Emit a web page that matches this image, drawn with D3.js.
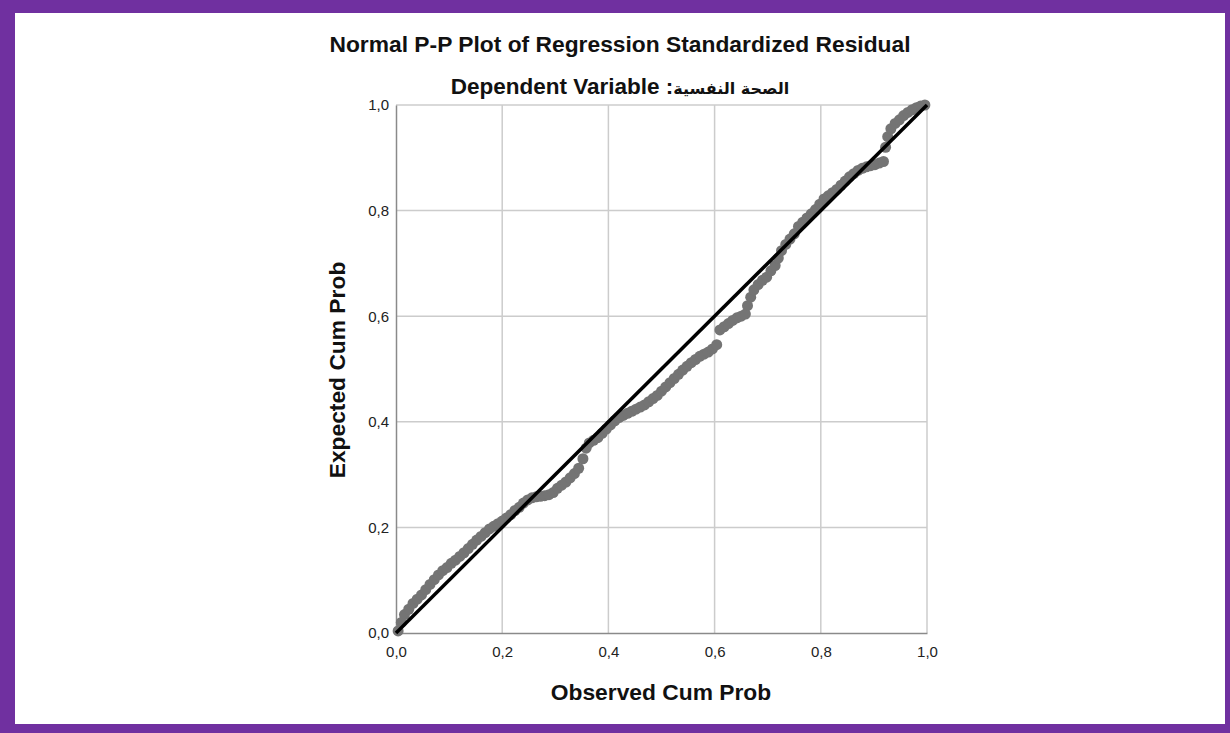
<!DOCTYPE html>
<html>
<head>
<meta charset="utf-8">
<script src="https://cdn.jsdelivr.net/npm/d3@7"></script>
<style>
  html, body { margin: 0; padding: 0; background: #fff; }
  svg { display: block; }
  text { font-family: "Liberation Sans", Arial, "DejaVu Sans", sans-serif; }
</style>
</head>
<body>
<svg id="chart" width="1230" height="733"></svg>
<script>
const titleText = "Normal P-P Plot of Regression Standardized Residual";
const subtitleLatin = "Dependent Variable :";
const subtitleArabic = "الصحة النفسية";
const xAxisTitle = "Observed Cum Prob";
const yAxisTitle = "Expected Cum Prob";
const tickValues = [0, 0.2, 0.4, 0.6, 0.8, 1.0];
const tickLabels = ["0,0", "0,2", "0,4", "0,6", "0,8", "1,0"];

const observedCumProb = [
  0.004,0.010,0.016,0.024,0.032,0.040,0.048,0.056,0.064,0.072,
  0.080,0.088,0.096,0.104,0.112,0.120,0.128,0.136,0.144,0.152,
  0.160,0.168,0.176,0.184,0.192,0.200,0.208,0.216,0.224,0.232,
  0.240,0.248,0.256,0.264,0.272,0.280,0.288,0.296,0.304,0.312,
  0.320,0.328,0.336,0.344,0.352,0.358,0.364,0.372,0.380,0.388,
  0.396,0.404,0.412,0.420,0.428,0.436,0.444,0.452,0.460,0.468,
  0.476,0.484,0.492,0.500,0.508,0.516,0.524,0.532,0.540,0.548,
  0.556,0.564,0.572,0.580,0.588,0.596,0.604,0.610,0.618,0.626,
  0.634,0.642,0.650,0.658,0.662,0.668,0.674,0.682,0.690,0.698,
  0.706,0.714,0.720,0.726,0.734,0.742,0.750,0.758,0.766,0.774,
  0.782,0.790,0.798,0.806,0.814,0.822,0.830,0.838,0.846,0.854,
  0.862,0.870,0.878,0.886,0.894,0.902,0.910,0.918,0.922,0.926,
  0.932,0.940,0.948,0.956,0.964,0.972,0.980,0.988,0.996
];
const expectedCumProb = [
  0.004,0.020,0.035,0.045,0.056,0.064,0.072,0.082,0.092,0.101,
  0.110,0.118,0.124,0.132,0.138,0.145,0.152,0.160,0.168,0.176,
  0.183,0.190,0.197,0.202,0.207,0.212,0.218,0.224,0.232,0.238,
  0.246,0.252,0.256,0.258,0.259,0.260,0.262,0.266,0.274,0.280,
  0.286,0.294,0.302,0.312,0.330,0.350,0.360,0.365,0.370,0.378,
  0.386,0.394,0.402,0.408,0.412,0.416,0.420,0.424,0.428,0.432,
  0.438,0.444,0.450,0.458,0.466,0.474,0.482,0.490,0.498,0.505,
  0.512,0.518,0.524,0.528,0.532,0.538,0.546,0.574,0.580,0.586,
  0.592,0.597,0.600,0.604,0.620,0.636,0.650,0.660,0.668,0.674,
  0.686,0.696,0.710,0.724,0.736,0.746,0.756,0.770,0.778,0.786,
  0.794,0.802,0.812,0.822,0.828,0.834,0.840,0.848,0.856,0.864,
  0.870,0.876,0.880,0.883,0.885,0.887,0.890,0.893,0.920,0.940,
  0.955,0.965,0.972,0.980,0.986,0.991,0.995,0.998,1.000
];
const referenceLine = [0, 1];

const points = observedCumProb.map((o, i) => ({ o, e: expectedCumProb[i] }));

const svg = d3.select("#chart");
const W = 1230, H = 733;

// purple frame
svg.append("rect").attr("x", 0).attr("y", 0).attr("width", W).attr("height", H).attr("fill", "#7030A0");
svg.append("rect").attr("x", 15).attr("y", 13).attr("width", 1210).attr("height", 711).attr("fill", "#ffffff");

const x = d3.scaleLinear().domain([0, 1]).range([396, 927]);
const y = d3.scaleLinear().domain([0, 1]).range([633, 105]);

// gridlines
const grid = svg.append("g");
grid.selectAll("line.vx").data(tickValues.slice(1)).enter().append("line")
  .attr("x1", d => x(d)).attr("x2", d => x(d)).attr("y1", y(0)).attr("y2", y(1))
  .attr("stroke", "#cccccc").attr("stroke-width", 1.5);
grid.selectAll("line.hy").data(tickValues.slice(1)).enter().append("line")
  .attr("y1", d => y(d)).attr("y2", d => y(d)).attr("x1", x(0)).attr("x2", x(1))
  .attr("stroke", "#cccccc").attr("stroke-width", 1.5);

// axes
const xAxis = d3.axisBottom(x).tickValues(tickValues).tickSize(0).tickPadding(13)
  .tickFormat((d, i) => tickLabels[i]);
const yAxis = d3.axisLeft(y).tickValues(tickValues).tickSize(0).tickPadding(7)
  .tickFormat((d, i) => tickLabels[i]);

const gx = svg.append("g").attr("transform", `translate(0,${y(0)})`).call(xAxis);
const gy = svg.append("g").attr("transform", `translate(${x(0)},0)`).call(yAxis);
[gx, gy].forEach(g => {
  g.select(".domain").attr("stroke", "#8a8a8a").attr("stroke-width", 1.5);
  g.selectAll("text").attr("font-size", 15).attr("fill", "#222")
    .attr("font-family", "'Liberation Sans', Arial, sans-serif");
});

// points
svg.append("g").selectAll("circle").data(points).enter().append("circle")
  .attr("cx", d => x(d.o)).attr("cy", d => y(d.e)).attr("r", 5.5)
  .attr("fill", "#747474");

// reference line
svg.append("line")
  .attr("x1", x(referenceLine[0])).attr("y1", y(referenceLine[0]))
  .attr("x2", x(referenceLine[1])).attr("y2", y(referenceLine[1]))
  .attr("stroke", "#000").attr("stroke-width", 3.5);

// titles
svg.append("text").attr("x", 620).attr("y", 52).attr("text-anchor", "middle")
  .attr("font-size", 22.8).attr("font-weight", "bold").attr("fill", "#111").text(titleText);
const sub = svg.append("text").attr("x", 620).attr("y", 94).attr("text-anchor", "middle")
  .attr("font-weight", "bold").attr("fill", "#111");
sub.append("tspan").attr("font-size", 22.5).text(subtitleLatin);
sub.append("tspan").attr("font-size", 16).attr("font-family", "'DejaVu Sans', sans-serif")
  .text(subtitleArabic);
svg.append("text").attr("x", 661).attr("y", 700).attr("text-anchor", "middle")
  .attr("font-size", 22.8).attr("font-weight", "bold").attr("fill", "#111").text(xAxisTitle);
svg.append("text").attr("transform", "translate(345,370) rotate(-90)").attr("text-anchor", "middle")
  .attr("font-size", 22.8).attr("font-weight", "bold").attr("fill", "#111").text(yAxisTitle);
</script>
</body>
</html>
